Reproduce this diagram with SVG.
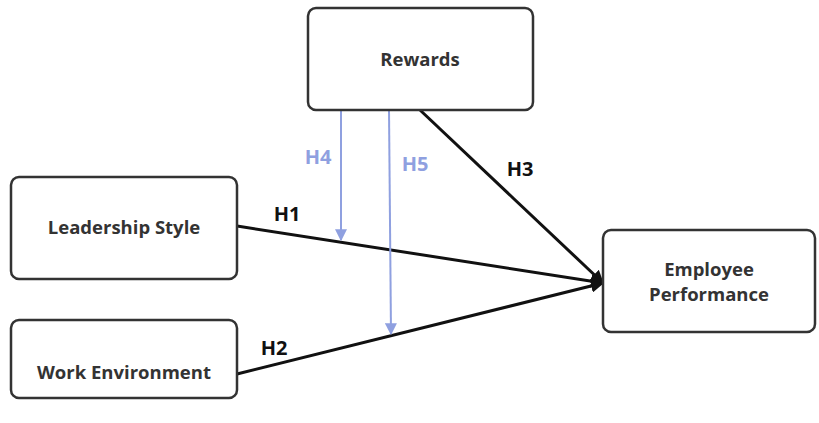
<svg xmlns="http://www.w3.org/2000/svg" width="819" height="423" viewBox="0 0 819 423">
<style>
.box{fill:#fff;stroke:#333;stroke-width:2.5}
.lbl{font-family:"Open Sans","Liberation Sans",sans-serif;font-weight:bold;font-size:18.5px;fill:#333;text-anchor:middle}
.edge{stroke:#111;stroke-width:3;fill:none}
.mod{stroke:#8fa0e0;stroke-width:2;fill:none}
.h{font-family:"Open Sans","Liberation Sans",sans-serif;font-weight:bold;font-size:20px;text-anchor:middle}
</style>
<defs>
<marker id="ab" viewBox="0 0 10 10" refX="9" refY="5" markerWidth="4.5" markerHeight="4.5" orient="auto" markerUnits="strokeWidth"><path d="M0,0 L10,5 L0,10 z" fill="#111"/></marker>
<marker id="am" viewBox="0 0 10 10" refX="9" refY="5" markerWidth="6" markerHeight="6" orient="auto" markerUnits="strokeWidth"><path d="M0,0 L10,5 L0,10 z" fill="#8fa0e0"/></marker>
</defs>
<rect width="819" height="423" fill="#fff"/>
<g id="connectors">
<line class="edge" x1="237" y1="226" x2="603" y2="283" marker-end="url(#ab)"/>
<line class="edge" x1="237" y1="374" x2="603" y2="283" marker-end="url(#ab)"/>
<line class="edge" x1="420" y1="110" x2="603" y2="283" marker-end="url(#ab)"/>
<line class="mod" x1="341" y1="110" x2="341" y2="240" marker-end="url(#am)"/>
<line class="mod" x1="389" y1="110" x2="391" y2="334" marker-end="url(#am)"/>
<text class="h" x="287" y="221" fill="#111">H1</text>
<text class="h" x="274" y="355" fill="#111">H2</text>
<text class="h" x="520" y="176" fill="#111">H3</text>
<text class="h" x="318" y="164" fill="#8fa0e0">H4</text>
<text class="h" x="415" y="171" fill="#8fa0e0">H5</text>
</g>
<g id="rewards"><rect class="box" x="308" y="8" width="225" height="102" rx="8"/><text class="lbl" x="420" y="66">Rewards</text></g>
<g id="leadership"><rect class="box" x="11" y="177" width="226" height="102" rx="8"/><text class="lbl" x="124" y="234">Leadership Style</text></g>
<g id="workenv"><rect class="box" x="11" y="320" width="226" height="78" rx="8"/><text class="lbl" x="124" y="379">Work Environment</text></g>
<g id="performance"><rect class="box" x="603" y="230" width="212" height="102" rx="8"/><text class="lbl" x="709" y="276">Employee</text><text class="lbl" x="709" y="301">Performance</text></g>
</svg>
